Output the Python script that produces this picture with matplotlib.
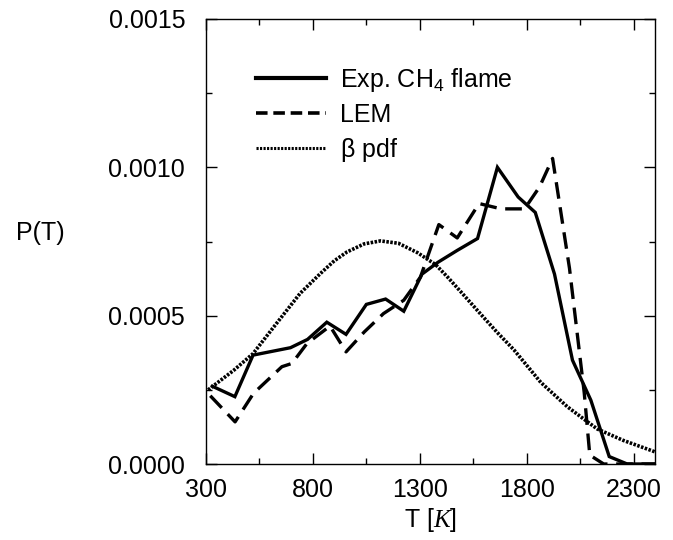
import matplotlib
matplotlib.use('Agg')
import matplotlib.pyplot as plt
from matplotlib.ticker import FixedLocator, FormatStrFormatter
from matplotlib.lines import Line2D

plt.rcParams['font.family'] = ['Liberation Sans', 'DejaVu Sans']
plt.rcParams['mathtext.fontset'] = 'custom'
plt.rcParams['mathtext.rm'] = 'Liberation Sans'
plt.rcParams['mathtext.it'] = 'Liberation Serif:italic'
plt.rcParams['mathtext.default'] = 'regular'

# Exp. CH4 flame (units of 1e-4)
T_exp = [330, 435, 520, 695, 775, 865, 955, 1050, 1140, 1225, 1310, 1385, 1475,
         1570, 1663, 1760, 1840, 1930, 2014, 2100, 2186, 2270, 2400]
P_exp = [2.62, 2.27, 3.67, 3.92, 4.2, 4.78, 4.37, 5.38, 5.56, 5.15, 6.4, 6.8, 7.2,
         7.6, 10.0, 9.0, 8.48, 6.4, 3.5, 2.15, 0.25, 0.0, 0.0]

# LEM
T_lem = [320, 436, 522, 655, 702, 772, 880, 955, 1040, 1130, 1225, 1303, 1389,
         1475, 1577, 1680, 1790, 1860, 1921, 2000, 2069, 2095, 2160, 2400]
P_lem = [2.3, 1.42, 2.38, 3.28, 3.39, 4.06, 4.65, 3.78, 4.45, 5.07, 5.52, 6.3, 8.07,
         7.62, 8.78, 8.6, 8.6, 9.34, 10.3, 6.6, 2.4, 0.3, 0.0, 0.0]

# beta pdf
T_beta = [310, 430, 520, 630, 740, 835, 900, 960, 1040, 1116, 1200, 1290, 1374,
          1430, 1490, 1585, 1660, 1740, 1866, 1990, 2053, 2130, 2250, 2400]
P_beta = [2.5, 3.16, 3.72, 4.74, 5.75, 6.42, 6.85, 7.15, 7.42, 7.52, 7.44, 7.12, 6.72,
          6.3, 5.82, 5.05, 4.45, 3.85, 2.75, 1.93, 1.59, 1.18, 0.8, 0.41]

x_major = [300, 800, 1300, 1800, 2300]
x_minor = [550, 1050, 1550, 2050]
y_major = [0.0, 0.0005, 0.0010, 0.0015]
y_minor = [0.00025, 0.00075, 0.00125]

fig = plt.figure(figsize=(6.73, 5.40), dpi=100)
ax = fig.add_axes([206 / 673, 76 / 540, 449 / 673, 445 / 540])

sc = 1e-4
ax.plot(T_exp, [p * sc for p in P_exp], color='black', lw=2.4,
        solid_joinstyle='miter', label='Exp. CH$_4$ flame')
ax.plot(T_lem, [p * sc for p in P_lem], color='black', lw=2.4,
        linestyle=(0, (5, 2.6)), label='LEM')
ax.plot(T_beta, [p * sc for p in P_beta], color='black', lw=2.6,
        linestyle=(0, (0.7, 0.4)), label=r'$\beta$ pdf')

ax.set_xlim(300, 2400)
ax.set_ylim(0, 0.0015)

ax.xaxis.set_major_locator(FixedLocator(x_major))
ax.xaxis.set_minor_locator(FixedLocator(x_minor))
ax.yaxis.set_major_locator(FixedLocator(y_major))
ax.yaxis.set_minor_locator(FixedLocator(y_minor))
ax.yaxis.set_major_formatter(FormatStrFormatter('%.4f'))

ax.tick_params(which='both', direction='in', top=True, right=True, width=1.0)
ax.tick_params(which='major', length=8, labelsize=18)
ax.tick_params(which='minor', length=4.5)
ax.tick_params(axis='y', which='major', pad=15)
ax.tick_params(axis='x', which='major', pad=10)
for s in ax.spines.values():
    s.set_linewidth(1.0)

ax.set_xlabel('T $\\mathit{[K]}$', fontsize=18, labelpad=3)
ax.set_ylabel('P(T)', fontsize=18, rotation=0, ha='center', va='center')
ax.yaxis.set_label_coords(-0.37, 0.52)

handles = [Line2D([], [], color='black', lw=3.0),
           Line2D([], [], color='black', lw=2.6, linestyle=(0, (3.2, 1.6))),
           Line2D([], [], color='black', lw=2.2, linestyle=(0, (0.7, 0.45)))]
labels = ['Exp. CH$_4$ flame', 'LEM', r'$\beta$ pdf']
ax.legend(handles, labels, loc='upper left', bbox_to_anchor=(0.112, 0.895),
          frameon=False, fontsize=18, handlelength=2.8, handletextpad=0.55,
          labelspacing=0.36, borderpad=0, borderaxespad=0)

fig.savefig('out.png', dpi=100)
